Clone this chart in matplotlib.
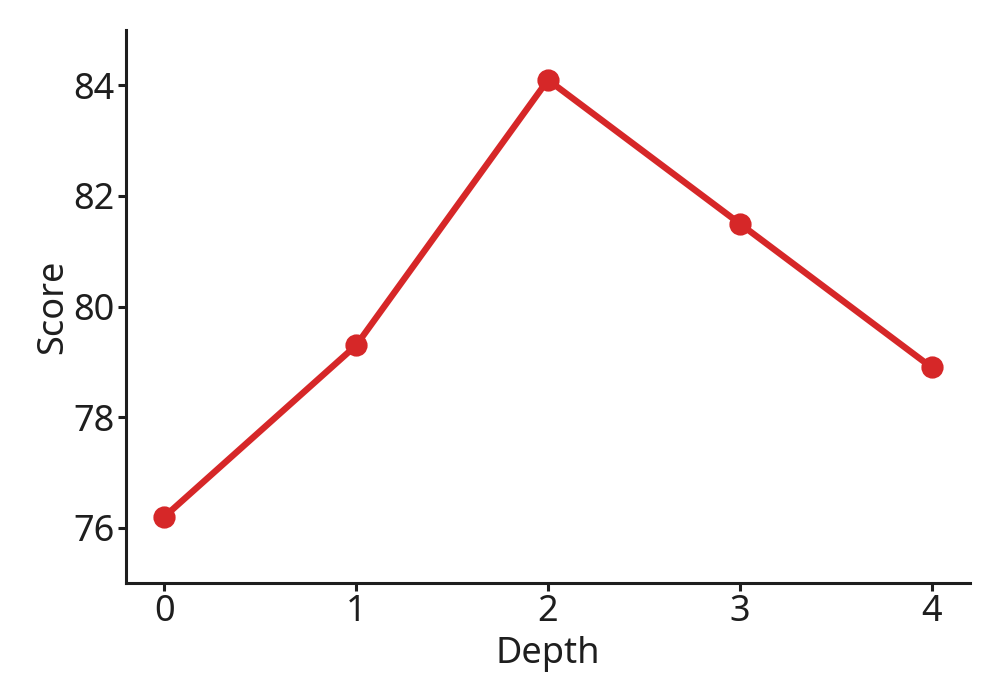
import matplotlib
matplotlib.use("Agg")
import matplotlib.pyplot as plt

depth = [0, 1, 2, 3, 4]
score = [76.2, 79.3, 84.1, 81.5, 78.9]
yticks = [76, 78, 80, 82, 84]

plt.rcParams['font.family'] = ['Noto Sans', 'DejaVu Sans']
plt.rcParams['text.color'] = '#1e1e1e'
plt.rcParams['axes.labelcolor'] = '#1e1e1e'
plt.rcParams['xtick.color'] = '#1e1e1e'
plt.rcParams['ytick.color'] = '#1e1e1e'

fig = plt.figure(figsize=(5, 3.5), dpi=200)
ax = fig.add_axes([0.126, 0.167, 0.844, 0.79])
ax.plot(depth, score, color='#d62728', linewidth=2.3, marker='o', markersize=7)
ax.set_xlim(-0.2, 4.2)
ax.set_ylim(75, 85)
ax.set_xticks(depth)
ax.set_yticks(yticks)
ax.set_xlabel('Depth', fontsize=13, labelpad=2)
ax.set_ylabel('Score', fontsize=13, labelpad=1)
ax.tick_params(labelsize=13, length=3, width=1.1, pad=1)
for s in ['top', 'right']:
    ax.spines[s].set_visible(False)
for s in ['left', 'bottom']:
    ax.spines[s].set_linewidth(1.1)
    ax.spines[s].set_color('#1e1e1e')
fig.savefig('out.png', dpi=200)
